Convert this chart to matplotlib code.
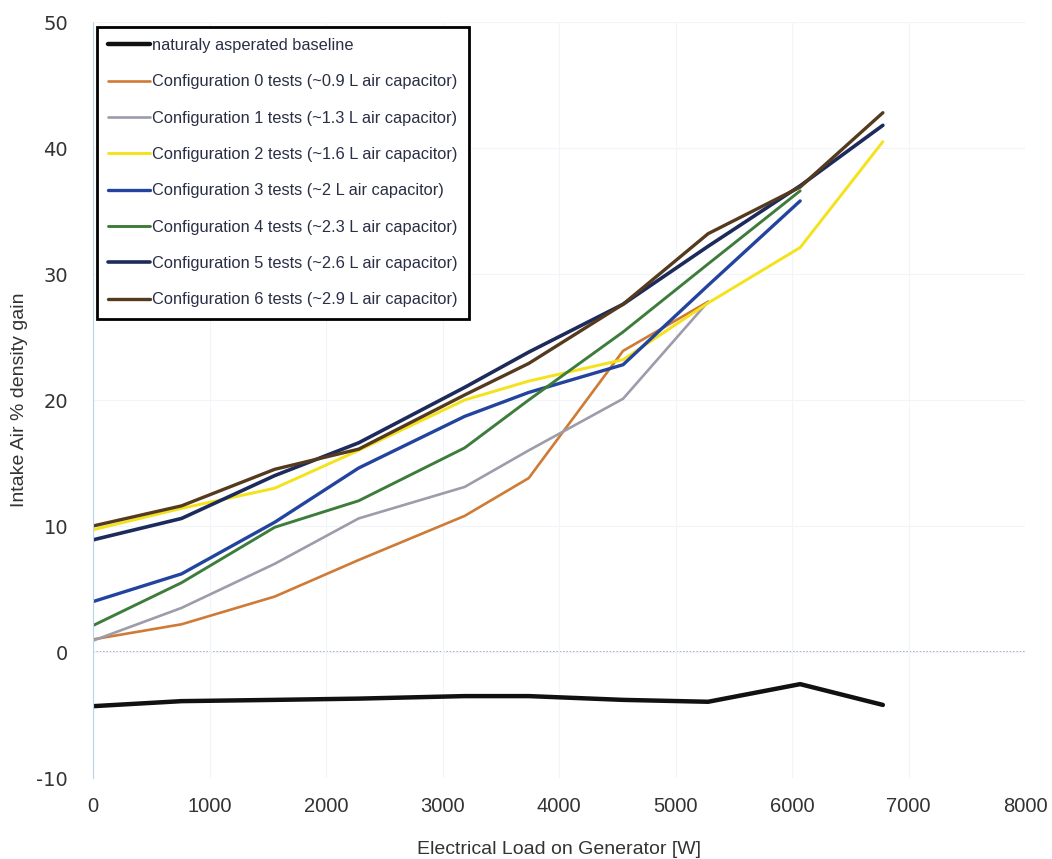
import matplotlib.pyplot as plt
import numpy as np

plt.rcParams['axes.unicode_minus'] = False

# generator load steps [W]
carga = [0, 760, 1560, 2280, 3190, 3740, 4550, 5280, 6070, 6780]

base = [-4.3, -3.9, -3.8, -3.7, -3.5, -3.5, -3.8, -3.95, -2.55, -4.2]
conf0 = [1.0, 2.2, 4.4, 7.3, 10.8, 13.8, 23.9, 27.8]
conf1 = [0.9, 3.5, 7.0, 10.6, 13.1, 16.0, 20.1, 27.8]
conf2 = [9.7, 11.4, 13.0, 16.0, 20.0, 21.5, 23.2, 27.7, 32.1, 40.5]
conf3 = [4.0, 6.2, 10.3, 14.6, 18.7, 20.6, 22.8, 29.1, 35.8]
conf4 = [2.1, 5.5, 9.9, 12.0, 16.2, 20.0, 25.4, 30.8, 36.6]
conf5 = [8.9, 10.6, 14.0, 16.6, 21.0, 23.8, 27.6, 32.2, 37.0, 41.8]
conf6 = [10.0, 11.6, 14.5, 16.1, 20.4, 22.9, 27.6, 33.2, 36.9, 42.8]

nombres = ['naturaly asperated baseline',
           'Configuration 0 tests (~0.9 L air capacitor)',
           'Configuration 1 tests (~1.3 L air capacitor)',
           'Configuration 2 tests (~1.6 L air capacitor)',
           'Configuration 3 tests (~2 L air capacitor)',
           'Configuration 4 tests (~2.3 L air capacitor)',
           'Configuration 5 tests (~2.6 L air capacitor)',
           'Configuration 6 tests (~2.9 L air capacitor)']
series = [base, conf0, conf1, conf2, conf3, conf4, conf5, conf6]
colores = ['#111111', '#cf7a35', '#9c9cab', '#f4e21a', '#22449e', '#3e7c3c', '#1c2b5c', '#553a1e']
grosor = [3.2, 1.9, 1.9, 2.1, 2.4, 2.1, 2.6, 2.4]

letra = ['Liberation Sans', 'DejaVu Sans']

fig = plt.figure(figsize=(10.52, 8.59), dpi=100)
ax = fig.add_axes([93/1052, 1-778/859, (1025-93)/1052, (778-22)/859])

for y, c, w, n in zip(series, colores, grosor, nombres):
    ax.plot(carga[:len(y)], y, color=c, lw=w, label=n, solid_capstyle='round')

ax.set_xlim(0, 8000)
ax.set_ylim(-10, 50)
ax.set_xticks(np.arange(0, 8001, 1000))
ax.set_yticks(np.arange(-10, 51, 10))

# eje horizontal en cero, etiquetas abajo
ax.axhline(0, color='#9aa4c0', lw=1.2, ls=(0, (1, 1)), zorder=0)
ax.grid(True, color='#f1f5fa', lw=0.8)
ax.set_axisbelow(True)
for s in ['top', 'right', 'bottom']:
    ax.spines[s].set_visible(False)
ax.spines['left'].set_color('#b8d4ea')
ax.spines['left'].set_linestyle((0, (2, 1)))
ax.tick_params(length=0)
ax.tick_params(axis='x', labelsize=14.5, labelcolor='#333333', pad=14)
ax.tick_params(axis='y', labelsize=14, labelcolor='#333333', pad=18)
for t in ax.get_xticklabels():
    t.set_family(letra)
for t in ax.get_yticklabels():
    t.set_family('DejaVu Sans')

ax.set_xlabel('Electrical Load on Generator [W]', fontsize=14, color='#333333',
              family=letra, labelpad=18)
ax.set_ylabel('Intake Air % density gain', fontsize=14, color='#333333', family=letra)
ax.yaxis.set_label_coords((28-93)/932, 0.5)

leg = ax.legend(loc='upper left', bbox_to_anchor=(96.7/1052, 1-26.7/859),
                bbox_transform=fig.transFigure, borderaxespad=0, fancybox=False,
                edgecolor='black', prop={'family': letra, 'size': 11.8},
                handlelength=2.56, handletextpad=0.1,
                labelspacing=1.3, borderpad=0.7, framealpha=1)
leg.get_frame().set_linewidth(2)
for t in leg.get_texts():
    t.set_color('#2a2f45')

fig.savefig('out.png', dpi=100)
